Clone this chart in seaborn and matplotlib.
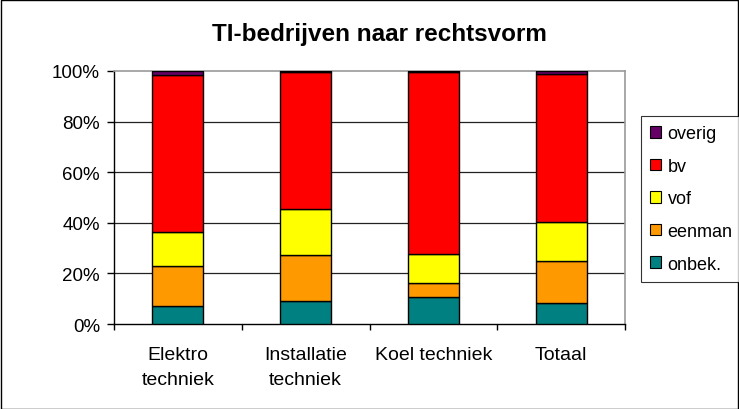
import numpy as np
import pandas as pd
import matplotlib
matplotlib.use("Agg")
import matplotlib.pyplot as plt
from matplotlib.patches import Patch, Rectangle
from matplotlib.ticker import FuncFormatter, FixedLocator
import seaborn as sns

categories = ["Elektro\ntechniek", "Installatie\ntechniek", "Koel techniek", "Totaal"]
onbek = [7.1, 9.0, 10.7, 8.4]
eenman = [15.8, 18.1, 5.6, 16.4]
vof = [13.3, 18.2, 11.5, 15.6]
bv = [62.2, 54.2, 71.7, 58.4]
overig = [1.6, 0.5, 0.5, 1.2]

series_names = ["onbek.", "eenman", "vof", "bv", "overig"]
series_values = [onbek, eenman, vof, bv, overig]
colors = ["#008080", "#FF9900", "#FFFF00", "#FF0000", "#660066"]

sns.set_theme(style="white")
plt.rcParams["font.family"] = ["Liberation Sans", "DejaVu Sans"]
plt.rcParams["text.color"] = "black"
plt.rcParams["xtick.color"] = "black"
plt.rcParams["ytick.color"] = "black"
plt.rcParams["xtick.labelcolor"] = "black"
plt.rcParams["ytick.labelcolor"] = "black"

fig = plt.figure(figsize=(7.39, 4.10), dpi=100)
ax = fig.add_axes([114 / 739, 1 - 325 / 410, 511 / 739, 253 / 410])

bottom = np.zeros(len(categories))
for name, vals, col in zip(series_names, series_values, colors):
    df = pd.DataFrame({"cat": categories, "val": vals})
    sns.barplot(data=df, x="cat", y="val", order=categories, color=col,
                width=0.4, bottom=bottom, edgecolor="black", linewidth=1.0,
                saturation=1, ax=ax, zorder=3)
    bottom = bottom + np.array(vals)

ax.set_xlim(-0.5, 3.5)
ax.set_ylim(0, 100)
ax.set_yticks([0, 20, 40, 60, 80, 100])
ax.yaxis.set_major_formatter(FuncFormatter(lambda v, p: f"{int(v)}%"))
for y in [20, 40, 60, 80]:
    ax.axhline(y, color="#222222", linewidth=0.9, zorder=1)
ax.set_xlabel("")
ax.set_ylabel("")
ax.tick_params(axis="y", which="major", direction="out", length=5, width=1,
               color="black", labelcolor="black", labelsize=13.5, left=True, pad=5)
ax.tick_params(axis="x", which="major", length=0, labelsize=14, pad=16,
               labelcolor="black")
ax.xaxis.set_minor_locator(FixedLocator([-0.5, 0.5, 1.5, 2.5, 3.5]))
ax.tick_params(axis="x", which="minor", direction="out", length=4, width=1,
               color="black", bottom=True)
for lbl in ax.get_xticklabels():
    lbl.set_linespacing(1.6)

for s in ["left", "bottom"]:
    ax.spines[s].set_color("black")
    ax.spines[s].set_linewidth(1)
for s in ["top", "right"]:
    ax.spines[s].set_color("#999999")
    ax.spines[s].set_linewidth(1.2)

fig.text(379 / 739, 1 - 41 / 410, "TI-bedrijven naar rechtsvorm", ha="center",
         va="baseline", fontsize=17.5, fontweight="bold", color="black")

handles = [Patch(facecolor=c, edgecolor="black", linewidth=0.8)
           for c in colors[::-1]]
leg = fig.legend(handles, series_names[::-1], loc="upper left",
                 bbox_to_anchor=(641 / 739, 1 - 117 / 410), frameon=True,
                 fancybox=False, edgecolor="black", fontsize=13,
                 handlelength=0.6, handleheight=0.6, handletextpad=0.35,
                 labelspacing=0.86, borderpad=0.52, borderaxespad=0,
                 labelcolor="black")
leg.get_frame().set_linewidth(0.8)

fig.patches.append(Rectangle((0.001, 0.001), 0.997, 0.997, transform=fig.transFigure,
                             fill=False, edgecolor="black", linewidth=1))

fig.savefig("out.png", dpi=100)
